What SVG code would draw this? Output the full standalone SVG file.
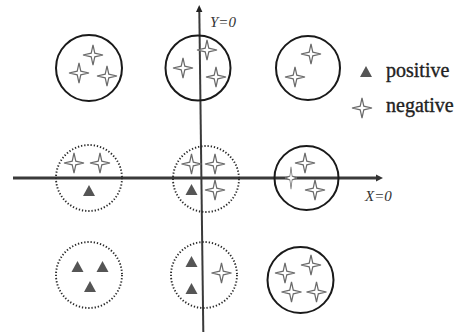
<svg xmlns="http://www.w3.org/2000/svg" width="458" height="332" viewBox="0 0 458 332">
<style>
.solid{fill:none;stroke:#1a1a1a;stroke-width:2}
.dot{fill:none;stroke:#2a2a2a;stroke-width:1.9;stroke-dasharray:1.3 1.9}
.tri{fill:#555}
.star{fill:#fff;stroke:#6a6a6a;stroke-width:1.2;stroke-linejoin:miter}
.axis{stroke:#3a3a3a;fill:none}
.lab{font-family:"Liberation Serif",serif;font-style:italic;font-size:15px;fill:#333}
.leg{font-family:"Liberation Serif",serif;font-size:20px;fill:#222;stroke:#222;stroke-width:0.35}
</style>
<defs>
<path id="s" class="star" d="M0,-10 L1.8,-1.8 L10,0 L1.8,1.8 L0,10 L-1.8,1.8 L-10,0 L-1.8,-1.8 Z"/>
<path id="t" class="tri" d="M0,-6 L6,5 L-6,5 Z"/>
</defs>
<g id="connectors">
<line class="axis" x1="13" y1="178" x2="378" y2="178" stroke-width="3"/>
<path d="M376,174.5 L383,178 L376,181.5 Z" fill="#333"/>
<line class="axis" x1="199.3" y1="10" x2="203.3" y2="332" stroke-width="2"/>
<path d="M196,12 L199.2,5 L202.4,12 Z" fill="#222"/>
</g>
<g id="c1">
<circle class="solid" cx="89" cy="68" r="33"/>
<use href="#s" x="93" y="55"/><use href="#s" x="79" y="73"/><use href="#s" x="107" y="76"/>
</g>
<g id="c2">
<circle class="solid" cx="198" cy="68" r="32.5"/>
<use href="#s" x="207" y="50"/><use href="#s" x="183" y="68"/><use href="#s" x="216" y="77"/>
</g>
<g id="c3">
<circle class="solid" cx="308" cy="68" r="32"/>
<use href="#s" x="311" y="54"/><use href="#s" x="295" y="77"/>
</g>
<g id="c4">
<circle class="dot" cx="89" cy="178" r="33"/>
<use href="#s" x="74" y="163"/><use href="#s" x="100" y="163"/><use href="#t" x="89" y="191"/>
</g>
<g id="c5">
<circle class="dot" cx="206" cy="179" r="33"/>
<use href="#s" x="191.5" y="164"/><use href="#s" x="215" y="164"/><use href="#s" x="215" y="190"/><use href="#t" x="191.5" y="190"/>
</g>
<g id="c6">
<circle class="solid" cx="306.5" cy="178" r="32"/>
<use href="#s" x="305" y="163"/>
<use href="#s" transform="translate(291,178) scale(0.6,1.1)"/>
<use href="#s" x="315" y="190"/>
</g>
<g id="c7">
<circle class="dot" cx="89" cy="275" r="33"/>
<use href="#t" x="77.5" y="267"/><use href="#t" x="102.5" y="267"/><use href="#t" x="90" y="287"/>
</g>
<g id="c8">
<circle class="dot" cx="204" cy="275" r="33"/>
<use href="#t" x="191.5" y="262"/><use href="#t" x="191.5" y="289"/><use href="#s" x="221.5" y="273"/>
</g>
<g id="c9">
<circle class="solid" cx="300.5" cy="280" r="33"/>
<use href="#s" x="285" y="273"/><use href="#s" x="311" y="265"/><use href="#s" x="291.5" y="292"/><use href="#s" x="316.5" y="292"/>
</g>
<g id="labels">
<text class="lab" x="210" y="27">Y=0</text>
<text class="lab" x="365" y="201">X=0</text>
</g>
<g id="legend">
<use href="#t" x="366" y="72"/>
<text class="leg" x="386" y="77">positive</text>
<use href="#s" x="362" y="108"/>
<text class="leg" x="386" y="112">negative</text>
</g>
</svg>
